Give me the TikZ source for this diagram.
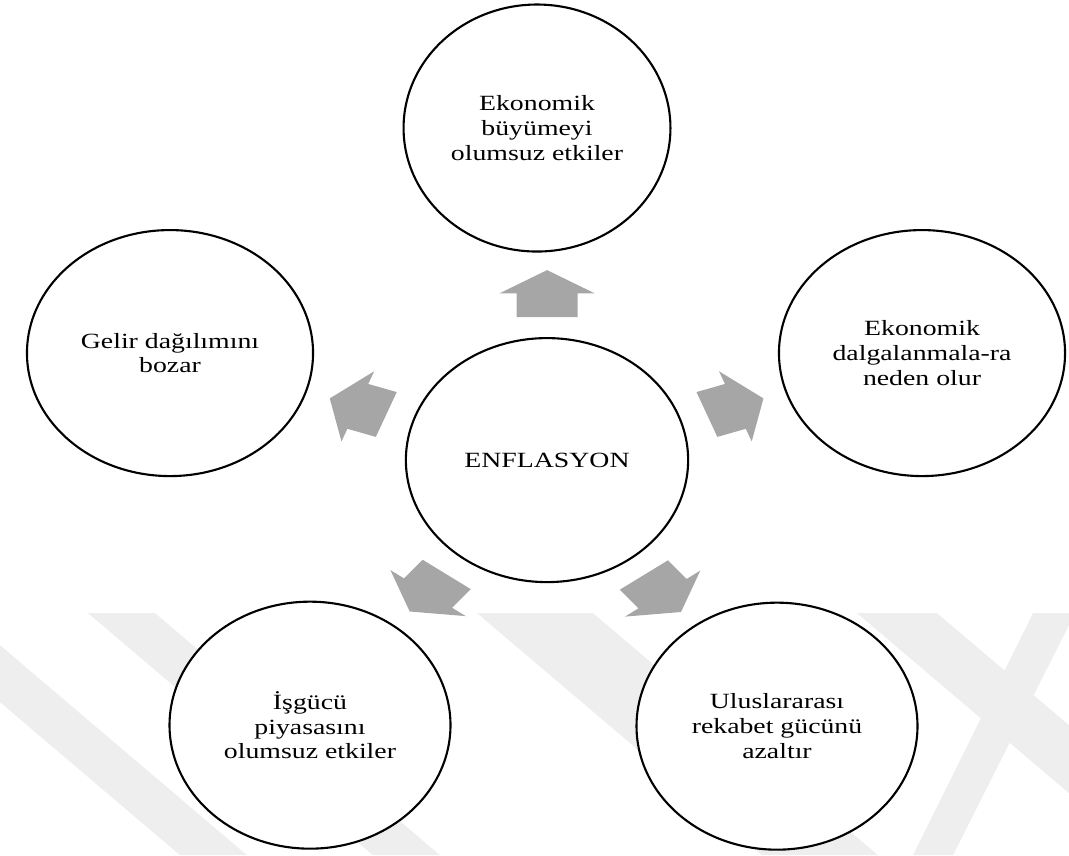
\documentclass[tikz,border=0pt]{standalone}
\usepackage{fontspec}
\setmainfont{Liberation Serif}
\usetikzlibrary{shapes.geometric,shapes.arrows,calc}
\definecolor{arrowgray}{RGB}{166,166,166}
\definecolor{markgray}{RGB}{238,238,238}
\tikzset{
 bubble/.style={ellipse,draw,line width=1.2pt,fill=white,align=center,inner sep=0pt,
  font={\fontsize{12.35pt}{14.2pt}\selectfont},minimum width=4.4cm,minimum height=4.9cm},
 blockarrow/.style={single arrow,draw=none,fill=arrowgray,inner xsep=0pt,inner ysep=0.47cm,
  text height=0pt,text depth=0pt,minimum height=0.94cm,
  single arrow head extend=0.27cm,single arrow tip angle=116}
}
\begin{document}
\begin{tikzpicture}[x=0.015625cm,y=-0.02cm,xscale=1.28,transform shape]
 \useasboundingbox (0,0) rectangle (1069,855);
 % faint watermark bands
 \fill[markgray] (0,645) -- (247,855) -- (180,855) -- (0,702) -- cycle;
 \fill[markgray] (88,613) -- (155,613) -- (440,855) -- (373,855) -- cycle;
 \fill[markgray] (477,613) -- (593,613) -- (878,855) -- (762,855) -- cycle;
 \fill[markgray] (857,613) -- (937,613) -- (1069,725) -- (1069,793) -- cycle;
 \fill[markgray] (1033,613) -- (1075,613) -- (953,855) -- (913,855) -- cycle;
 % ellipses
 \node[bubble,minimum width=4.41cm,minimum height=4.88cm] (enf) at (547,460) {ENFLASYON};
 \node[bubble,minimum width=4.17cm,minimum height=4.94cm] (buyume) at (537,128) {Ekonomik\\büyümeyi\\olumsuz etkiler};
 \node[bubble,minimum width=4.47cm,minimum height=4.92cm] (gelir) at (170,353) {Gelir dağılımını\\bozar};
 \node[bubble,minimum width=4.47cm,minimum height=4.92cm] (dalga) at (922,353) {Ekonomik\\dalgalanmala-ra\\neden olur};
 \node[bubble,minimum width=4.39cm,minimum height=4.94cm] (isgucu) at (310,725) {İşgücü\\piyasasını\\olumsuz etkiler};
 \node[bubble,minimum width=4.39cm,minimum height=4.94cm] (rekabet) at (777,726) {Uluslararası\\rekabet gücünü\\azaltır};
 % arrows
 \coordinate (mup) at ($(enf)!0.5!(buyume)$);
 \node[blockarrow,rotate=90,xshift=-0.14cm] (aup) at (enf |- mup) {};
 \node[blockarrow,rotate=160,xshift=-0.14cm] (agelir) at ($(enf)!0.5!(gelir)$) {};
 \node[blockarrow,rotate=20,xshift=-0.14cm] (adalga) at ($(enf)!0.5!(dalga)$) {};
 \node[blockarrow,rotate=232,xshift=-0.14cm] (aisgucu) at ($(enf)!0.5!(isgucu)$) {};
 \node[blockarrow,rotate=-52,xshift=-0.14cm] (arekabet) at ($(enf)!0.5!(rekabet)$) {};
\end{tikzpicture}
\end{document}
